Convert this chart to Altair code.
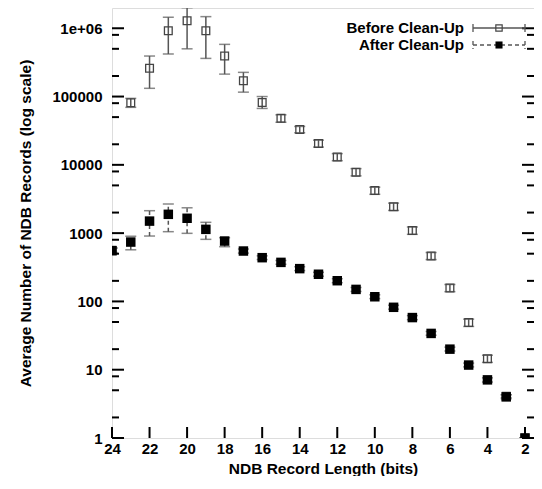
import altair as alt
import pandas as pd

# ---------------- data ----------------
series = ["Before Clean-Up", "After Clean-Up"]

bits_before = [24, 23, 22, 21, 20, 19, 18, 17, 16, 15, 14, 13, 12, 11, 10, 9, 8, 7, 6, 5, 4, 3, 2]
before_val = [560, 81000, 260000, 920000, 1290000, 920000, 392000, 170000, 82000, 48000, 33000,
              20600, 13000, 7800, 4200, 2440, 1090, 462, 157, 49, 14.5, 4.1, 1]
before_lo = [520, 69500, 132000, 420000, 500000, 362000, 213000, 116000, 67000, 42000, 29500,
             18200, 11500, 6900, 3700, 2150, 960, 410, 139, 43, 12.8, 3.9, 1]
before_hi = [600, 94000, 392000, 1450000, 2000000, 1480000, 581000, 226000, 100000, 54000, 36500,
             23000, 14600, 8800, 4700, 2750, 1230, 520, 177, 55, 16.3, 4.3, 1]

bits_after = [24, 23, 22, 21, 20, 19, 18, 17, 16, 15, 14, 13, 12, 11, 10, 9, 8, 7, 6, 5, 4, 3, 2, 1]
after_val = [552, 740, 1500, 1885, 1650, 1136, 766, 547, 437, 373, 302, 250, 201, 150, 117, 82,
             58, 34, 20, 11.7, 7.1, 4.0, 1, 1]
after_lo = [500, 570, 907, 1050, 993, 811, 633, 510, 410, 350, 283, 234, 188, 140, 110, 77,
            54, 32, 18.8, 11, 6.6, 3.75, 1, 1]
after_hi = [610, 900, 2130, 2670, 2350, 1440, 857, 585, 465, 398, 322, 267, 215, 160, 125, 88,
            62, 36.3, 21.4, 12.5, 7.6, 4.3, 1, 1]

x_ticks = [24, 22, 20, 18, 16, 14, 12, 10, 8, 6, 4, 2]
y_major = [1, 10, 100, 1000, 10000, 100000, 1000000]
y_labels = ["1", "10", "100", "1000", "10000", "100000", "1e+06"]
y_minor = [2, 5, 8, 20, 50, 80, 200, 500, 800, 2000, 5000, 8000, 20000, 50000, 80000,
           200000, 500000, 800000]

x_domain = [1.52, 24]
y_domain = [1, 1.98e6]

# ---------------- styling ----------------
FONT = "Liberation Sans"
W, H = 422, 430
GRAY = "#555555"

before = pd.DataFrame({"bits": bits_before, "val": before_val, "lo": before_lo, "hi": before_hi})
after = pd.DataFrame({"bits": bits_after, "val": after_val, "lo": after_lo, "hi": after_hi})

xscale = alt.Scale(domain=x_domain, reverse=True, nice=False, zero=False)
yscale = alt.Scale(type="log", domain=y_domain, nice=False)

label_expr = " : ".join(
    [f"datum.value == {v} ? '{l}'" for v, l in zip(y_major, y_labels)]
) + " : ''"

xaxis = alt.Axis(values=x_ticks, ticks=False, tickSize=0, domain=False, grid=False,
                 labelFlush=False, labelOverlap=False,
                 labelFont=FONT, labelFontSize=15, labelFontWeight="bold", labelColor="black",
                 labelPadding=3, title="NDB Record Length (bits)", titleFont=FONT,
                 titleFontSize=15.5, titleFontWeight="bold", titleColor="black", titlePadding=5)
yaxis = alt.Axis(values=y_major, labelExpr=label_expr, ticks=False, tickSize=0, domain=False,
                 grid=False, labelFlush=False, labelOverlap=False,
                 labelFont=FONT, labelFontSize=15, labelFontWeight="bold",
                 labelColor="black", labelPadding=10,
                 title="Average Number of NDB Records (log scale)", titleFont=FONT,
                 titleFontSize=15.5, titleFontWeight="bold", titleColor="black", titlePadding=18)


def xe(field):
    return alt.X(f"{field}:Q", scale=xscale, axis=xaxis)


def ye(field):
    return alt.Y(f"{field}:Q", scale=yscale, axis=yaxis)


# ---------------- data layers ----------------
b_err = alt.Chart(before).mark_rule(color=GRAY, strokeWidth=1.5, clip=True).encode(
    x=xe("bits"), y=ye("lo"), y2="hi")
b_cap_lo = alt.Chart(before).mark_tick(color=GRAY, orient="horizontal", size=11, thickness=1.5,
                                       clip=True).encode(x=xe("bits"), y=ye("lo"))
b_cap_hi = alt.Chart(before).mark_tick(color=GRAY, orient="horizontal", size=11, thickness=1.5,
                                       clip=True).encode(x=xe("bits"), y=ye("hi"))
b_pts = alt.Chart(before).mark_point(shape="square", filled=False, color="#444444", size=60,
                                     strokeWidth=1.3, opacity=1, clip=True).encode(
    x=xe("bits"), y=ye("val"))

a_err = alt.Chart(after).mark_rule(color=GRAY, strokeWidth=1.5, strokeDash=[4, 3],
                                   clip=True).encode(x=xe("bits"), y=ye("lo"), y2="hi")
a_cap_lo = alt.Chart(after).mark_tick(color=GRAY, orient="horizontal", size=11, thickness=1.5,
                                      strokeDash=[4, 3], clip=True).encode(x=xe("bits"), y=ye("lo"))
a_cap_hi = alt.Chart(after).mark_tick(color=GRAY, orient="horizontal", size=11, thickness=1.5,
                                      strokeDash=[4, 3], clip=True).encode(x=xe("bits"), y=ye("hi"))
a_pts = alt.Chart(after).mark_point(shape="square", filled=True, color="black", size=90,
                                    opacity=1, clip=True).encode(x=xe("bits"), y=ye("val"))

# ---------------- inward ticks (gnuplot style) ----------------
ymaj = pd.DataFrame({"v": y_major})
ymin = pd.DataFrame({"v": y_minor})
xt = pd.DataFrame({"v": x_ticks})

tick_layers = []
for df, ln in ((ymaj, 12), (ymin, 7)):
    tick_layers.append(alt.Chart(df).mark_rule(color="black", strokeWidth=2).encode(
        y=ye("v"), x=alt.value(0), x2=alt.value(ln)))
    tick_layers.append(alt.Chart(df).mark_rule(color="black", strokeWidth=2).encode(
        y=ye("v"), x=alt.value(W), x2=alt.value(W - ln)))
tick_layers.append(alt.Chart(xt).mark_rule(color="black", strokeWidth=2).encode(
    x=xe("v"), y=alt.value(H), y2=alt.value(H - 11)))

# ---------------- legend ----------------
leg_layers = []
for i, (name, ly) in enumerate(zip(series, [20, 37])):
    d = pd.DataFrame({"label": [name]})
    dash = [] if i == 0 else [4, 3]
    leg_layers.append(alt.Chart(d).mark_text(align="right", baseline="middle", font=FONT,
                                             fontSize=15, fontWeight="bold", color="black").encode(
        x=alt.value(352), y=alt.value(ly), text="label:N"))
    rule_kw = dict(color=GRAY, strokeWidth=1.3)
    if dash:
        rule_kw["strokeDash"] = dash
    leg_layers.append(alt.Chart(d).mark_rule(**rule_kw).encode(
        x=alt.value(361), x2=alt.value(413), y=alt.value(ly)))
    leg_layers.append(alt.Chart(d).mark_rule(**rule_kw).encode(
        x=alt.value(361), y=alt.value(ly - 4), y2=alt.value(ly + 4)))
    leg_layers.append(alt.Chart(d).mark_rule(**rule_kw).encode(
        x=alt.value(413), y=alt.value(ly - 4), y2=alt.value(ly + 4)))
    leg_layers.append(alt.Chart(d).mark_point(shape="square", filled=(i == 1),
                                              color=("#444444" if i == 0 else "black"),
                                              size=(40 if i == 0 else 50), opacity=1,
                                              strokeWidth=1.2).encode(
        x=alt.value(387), y=alt.value(ly)))

chart = alt.layer(
    b_err, b_cap_lo, b_cap_hi, b_pts, a_err, a_cap_lo, a_cap_hi, a_pts,
    *tick_layers, *leg_layers
).properties(
    width=W, height=H,
    autosize=alt.AutoSizeParams(type="none"),
    padding={"left": 104, "top": 0, "right": 0, "bottom": 38},
).configure_view(
    stroke="black", strokeWidth=2
).configure(background="white")

chart.save("out.html", embed_options={"renderer": "svg", "actions": False})
